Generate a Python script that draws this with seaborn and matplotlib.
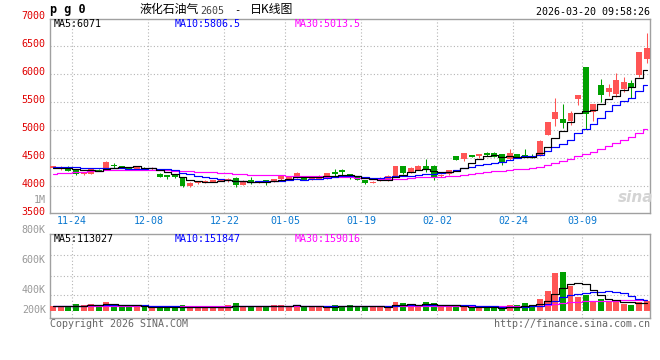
import matplotlib
matplotlib.use('Agg')
import matplotlib.pyplot as plt
import matplotlib.transforms as mtransforms
import seaborn as sns
import numpy as np

# ---- daily candles (index 0 = 11-19 ... index 78 = last session) ----
opens = [4330, 4298, 4345, 4290, 4214, 4214, 4290, 4286, 4380, 4357,
         4322, 4298, 4321, 4298, 4214, 4190, 4202, 4143, 3995, 4048,
         4060, 4071, 4095, 4083, 4143, 4024, 4107, 4048, 4100, 4071,
         4119, 4130, 4155, 4166, 4110, 4125, 4137, 4256, 4280, 4214,
         4160, 4107, 4054, 4101, 4101, 4178, 4357, 4256, 4292, 4351,
         4363, 4170, 4220, 4536, 4476, 4554, 4536, 4595, 4595, 4571,
         4476, 4571, 4560, 4536, 4536, 4911, 5190, 5196, 5161, 5560,
         6119, 5327, 5803, 5679, 5643, 5726, 5845, 5982, 6274]
highs = [4365, 4350, 4350, 4295, 4255, 4315, 4300, 4440, 4417, 4362,
         4330, 4338, 4340, 4345, 4225, 4200, 4215, 4148, 4065, 4082,
         4102, 4112, 4108, 4140, 4167, 4100, 4167, 4090, 4107, 4125,
         4202, 4165, 4245, 4172, 4160, 4190, 4240, 4303, 4303, 4220,
         4165, 4110, 4085, 4155, 4200, 4362, 4362, 4340, 4375, 4482,
         4380, 4210, 4290, 4540, 4590, 4560, 4575, 4600, 4600, 4575,
         4655, 4580, 4665, 4570, 4815, 5150, 5571, 5464, 5345, 5625,
         6125, 5470, 5905, 5821, 6024, 5952, 5893, 6400, 6738]
lows = [4320, 4290, 4270, 4205, 4205, 4210, 4265, 4280, 4320, 4315,
        4300, 4292, 4280, 4292, 4160, 4120, 4140, 3990, 3988, 4040,
        4055, 4066, 4090, 4075, 3990, 4015, 4040, 4045, 4024, 4065,
        4115, 4125, 4150, 4100, 4100, 4120, 4130, 4185, 4196, 4130,
        4100, 4035, 4048, 4095, 4095, 4170, 4220, 4232, 4285, 4256,
        4110, 4160, 4197, 4460, 4440, 4515, 4500, 4540, 4515, 4370,
        4470, 4510, 4530, 4500, 4530, 4905, 5071, 5036, 5083, 5440,
        5012, 5167, 5500, 5607, 5595, 5679, 5571, 5940, 6202]
closes = [4355, 4345, 4275, 4214, 4250, 4310, 4275, 4435, 4357, 4321,
          4310, 4333, 4286, 4320, 4167, 4155, 4155, 3995, 4060, 4077,
          4095, 4107, 4101, 4130, 4024, 4095, 4048, 4083, 4090, 4119,
          4178, 4160, 4238, 4107, 4150, 4155, 4226, 4220, 4244, 4137,
          4107, 4048, 4077, 4149, 4185, 4357, 4226, 4315, 4363, 4292,
          4137, 4185, 4280, 4464, 4583, 4524, 4571, 4547, 4524, 4417,
          4595, 4524, 4536, 4506, 4810, 5143, 5321, 5131, 5310, 5619,
          5286, 5464, 5625, 5744, 5893, 5857, 5750, 6393, 6464]

ma5 = [4330, 4328, 4318, 4295, 4288, 4279, 4265, 4297, 4325, 4340,
       4340, 4351, 4321, 4314, 4283, 4252, 4217, 4158, 4106, 4088,
       4076, 4067, 4088, 4102, 4091, 4091, 4080, 4076, 4068, 4087,
       4104, 4126, 4157, 4160, 4167, 4162, 4175, 4172, 4199, 4196,
       4187, 4151, 4123, 4104, 4113, 4163, 4199, 4246, 4289, 4311,
       4267, 4258, 4251, 4272, 4330, 4407, 4484, 4538, 4550, 4517,
       4531, 4521, 4519, 4516, 4594, 4704, 4863, 4982, 5143, 5305,
       5333, 5362, 5461, 5548, 5602, 5717, 5774, 5927, 6071]
ma10 = [4345, 4343, 4338, 4333, 4328, 4322, 4318, 4318, 4316, 4314,
        4309, 4308, 4309, 4320, 4311, 4296, 4284, 4240, 4210, 4186,
        4164, 4142, 4123, 4104, 4090, 4084, 4073, 4082, 4085, 4089,
        4098, 4103, 4117, 4114, 4127, 4133, 4151, 4164, 4180, 4182,
        4174, 4163, 4147, 4151, 4155, 4175, 4175, 4185, 4196, 4212,
        4215, 4229, 4249, 4280, 4320, 4337, 4371, 4395, 4411, 4423,
        4469, 4503, 4529, 4533, 4555, 4617, 4692, 4751, 4829, 4950,
        5019, 5113, 5222, 5345, 5454, 5525, 5568, 5694, 5807]
ma30 = [4220, 4228, 4238, 4245, 4255, 4265, 4272, 4278, 4282, 4285,
        4287, 4288, 4288, 4287, 4283, 4279, 4274, 4268, 4262, 4255,
        4250, 4244, 4232, 4224, 4215, 4208, 4202, 4198, 4197, 4196,
        4190, 4184, 4183, 4179, 4176, 4171, 4169, 4162, 4158, 4152,
        4145, 4136, 4129, 4123, 4124, 4131, 4133, 4144, 4154, 4161,
        4162, 4165, 4171, 4182, 4201, 4215, 4232, 4248, 4262, 4272,
        4286, 4298, 4308, 4321, 4343, 4376, 4413, 4443, 4479, 4528,
        4568, 4615, 4666, 4719, 4776, 4826, 4877, 4946, 5014]

# volume in thousands of lots
volume = [69, 59, 69, 98, 83, 98, 59, 127, 98, 59,
          59, 69, 59, 49, 49, 39, 39, 83, 59, 49,
          49, 49, 49, 88, 113, 69, 49, 59, 69, 83,
          83, 69, 83, 59, 59, 49, 49, 83, 69, 83,
          49, 69, 49, 69, 69, 127, 113, 83, 59, 127,
          113, 69, 69, 49, 59, 49, 59, 34, 34, 49,
          83, 83, 113, 59, 172, 294, 559, 573, 368, 206,
          230, 147, 172, 127, 127, 103, 83, 127, 147]
vol_ma5 = [66, 64, 65, 70, 76, 81, 81, 93, 93, 88,
           80, 82, 69, 59, 57, 53, 47, 52, 54, 54,
           56, 58, 51, 57, 70, 74, 74, 76, 72, 66,
           69, 73, 77, 75, 71, 64, 60, 60, 62, 67,
           67, 71, 64, 64, 61, 77, 85, 92, 90, 102,
           99, 90, 87, 85, 72, 59, 57, 50, 47, 45,
           52, 57, 72, 77, 102, 144, 239, 331, 393, 400,
           387, 305, 225, 176, 161, 135, 122, 113, 113]
vol_ma10 = [70, 70, 72, 74, 76, 78, 80, 82, 82, 82,
            81, 82, 81, 76, 73, 67, 65, 60, 56, 55,
            54, 52, 51, 55, 62, 65, 66, 63, 64, 68,
            71, 73, 77, 74, 68, 66, 66, 69, 69, 69,
            65, 65, 62, 63, 64, 72, 78, 78, 77, 81,
            88, 88, 90, 88, 87, 79, 74, 69, 66, 58,
            55, 57, 61, 62, 74, 98, 148, 202, 235, 251,
            266, 272, 278, 285, 280, 261, 214, 169, 152]
vol_ma30 = [66, 66, 67, 67, 67, 68, 68, 68, 69, 69,
            69, 69, 69, 68, 68, 68, 68, 68, 68, 68,
            68, 68, 67, 67, 68, 68, 68, 68, 68, 68,
            69, 69, 70, 68, 68, 66, 66, 64, 63, 64,
            64, 64, 63, 64, 65, 68, 70, 70, 70, 73,
            75, 75, 76, 75, 73, 72, 73, 72, 71, 69,
            69, 70, 71, 71, 75, 83, 100, 116, 126, 130,
            136, 139, 143, 145, 147, 150, 152, 155, 159]

date_labels = ['11-24', '12-08', '12-22', '01-05', '01-19', '02-02', '02-24', '03-09']
date_index = [3, 13, 23, 31, 41, 51, 61, 70]

price_levels = [7000, 6500, 6000, 5500, 5000, 4500, 4000, 3500]
price_ma_text = ['MA5:6071', 'MA10:5806.5', 'MA30:5013.5']
vol_ma_text = ['MA5:113027', 'MA10:151847', 'MA30:159016']
vol_axis_labels = ['800K', '600K', '400K', '200K']

# ---- style ----
sns.set_theme(style='white')
plt.rcParams['font.family'] = ['DejaVu Sans Mono', 'Noto Sans CJK SC']

RED = '#ff5555'
GREEN = '#00a000'
GRID = '#b4b4b4'
FRAME = '#a0a0a0'
MONO = 'DejaVu Sans Mono'
CJK = ['Noto Sans CJK SC', 'DejaVu Sans']
W, H = 660, 360

fig = plt.figure(figsize=(6.6, 3.6), dpi=100)
fig.patch.set_facecolor('white')

def fx(px):
    return px / W

def fy(py):
    return 1 - py / H

ax_p = fig.add_axes([fx(50), fy(213), fx(600), (213 - 19) / H])
ax_v = fig.add_axes([fx(50), fy(318.3), fx(600), (318.3 - 234.3) / H])

idx = np.arange(len(closes))
o = np.array(opens); c = np.array(closes)
colors = [RED if cc >= oo else GREEN for oo, cc in zip(o, c)]

for ax in (ax_p, ax_v):
    ax.set_facecolor('white')
    ax.set_xlim(-0.42, 78.45)
    ax.set_xticks([]); ax.set_yticks([])
    for s in ax.spines.values():
        s.set_color(FRAME); s.set_linewidth(1.0)
    for di in date_index:
        ax.axvline(di - 0.5, color=GRID, lw=0.8, ls=(0, (1, 2)), zorder=0)

# ---- price panel ----
ax_p.set_ylim(3518, 6982)
for lv in price_levels[1:-1]:
    ax_p.axhline(lv, color=GRID, lw=0.8, ls=(0, (1, 2)), zorder=0)

ax_p.vlines(idx, lows, highs, colors=colors, lw=0.75, zorder=2)
body = np.maximum(np.abs(c - o), 18)
ax_p.bar(idx, body, bottom=np.minimum(o, c), width=0.78, color=colors, lw=0, zorder=3)

for vals, col in [(ma30, '#ff00ff'), (ma10, '#0000ff'), (ma5, '#000000')]:
    sns.lineplot(x=idx, y=vals, ax=ax_p, color=col, lw=0.85, drawstyle='steps-mid',
                 legend=False, zorder=4)
ax_p.set_xlabel(''); ax_p.set_ylabel('')

ytr = ax_p.get_yaxis_transform()
for lv in price_levels:
    ax_p.text(-0.007, lv + 36, str(lv), transform=ytr, ha='right', va='center',
              color='#e00000', fontsize=7.2, family=MONO, clip_on=False)
ax_p.text(-0.007, 3750, '1M', transform=ytr, ha='right', va='center',
          color='#999999', fontsize=7.2, family=MONO, clip_on=False)

for txt, col, px in zip(price_ma_text, ['#000000', '#0000ff', '#ff00ff'], [54, 175, 295]):
    fig.text(fx(px), fy(24), txt, color=col, fontsize=7.2, family=MONO, va='center')

# sina watermark
fig.text(fx(636), fy(197), 'sina', color='#d4d4d4', fontsize=11, fontweight='bold',
         style='italic', family='DejaVu Sans', ha='center', va='center')

# ---- volume panel ----
ax_v.set_ylim(-112, 1123)
for lv in [230, 515, 819]:
    ax_v.axhline(lv, color=GRID, lw=0.8, ls=(0, (1, 2)), zorder=0)
ax_v.bar(idx, volume, width=0.78, color=colors, lw=0, zorder=3)
for vals, col in [(vol_ma30, '#ff00ff'), (vol_ma10, '#0000ff'), (vol_ma5, '#000000')]:
    sns.lineplot(x=idx, y=vals, ax=ax_v, color=col, lw=0.85, drawstyle='steps-mid',
                 legend=False, zorder=4)
ax_v.set_xlabel(''); ax_v.set_ylabel('')

vtr = ax_v.get_yaxis_transform()
for lab, yv in zip(vol_axis_labels, [1186, 746, 304, 10]):
    ax_v.text(-0.007, yv, lab, transform=vtr, ha='right', va='center',
              color='#999999', fontsize=7.2, family=MONO, clip_on=False)

for txt, col, px in zip(vol_ma_text, ['#000000', '#0000ff', '#ff00ff'], [54, 175, 295]):
    fig.text(fx(px), fy(239.5), txt, color=col, fontsize=7.2, family=MONO, va='center')

# ---- date labels between panels ----
dtr = mtransforms.blended_transform_factory(ax_p.transData, fig.transFigure)
for lab, di in zip(date_labels, date_index):
    fig.text(di - 0.5, fy(221), lab, transform=dtr, ha='center', va='center',
             color='#0a78d0', fontsize=7.2, family=MONO)

# ---- header / footer ----
fig.text(fx(50), fy(10), 'p g 0', fontsize=8.5, fontweight='bold', family=MONO,
         va='center', color='#000000')
fig.text(fx(140), fy(9.5), '液化石油气', fontsize=8.6, family=CJK, va='center', color='#000000')
fig.text(fx(200), fy(10.5), '2605', fontsize=7.2, family=MONO, va='center', color='#444444')
fig.text(fx(234), fy(10), '-', fontsize=7.5, family=MONO, va='center', color='#000000')
fig.text(fx(250), fy(9.5), '日K线图', fontsize=8.6, family=CJK, va='center', color='#000000')
fig.text(fx(650), fy(12), '2026-03-20 09:58:26', fontsize=7.2, family=MONO,
         ha='right', va='center', color='#000000')
fig.text(fx(50), fy(324), 'Copyright 2026 SINA.COM', fontsize=7.2, family=MONO,
         va='center', color='#666666')
fig.text(fx(650), fy(324), 'http://finance.sina.com.cn', fontsize=7.2, family=MONO,
         ha='right', va='center', color='#666666')

fig.savefig('out.png', dpi=100, facecolor='white')
plt.close(fig)
